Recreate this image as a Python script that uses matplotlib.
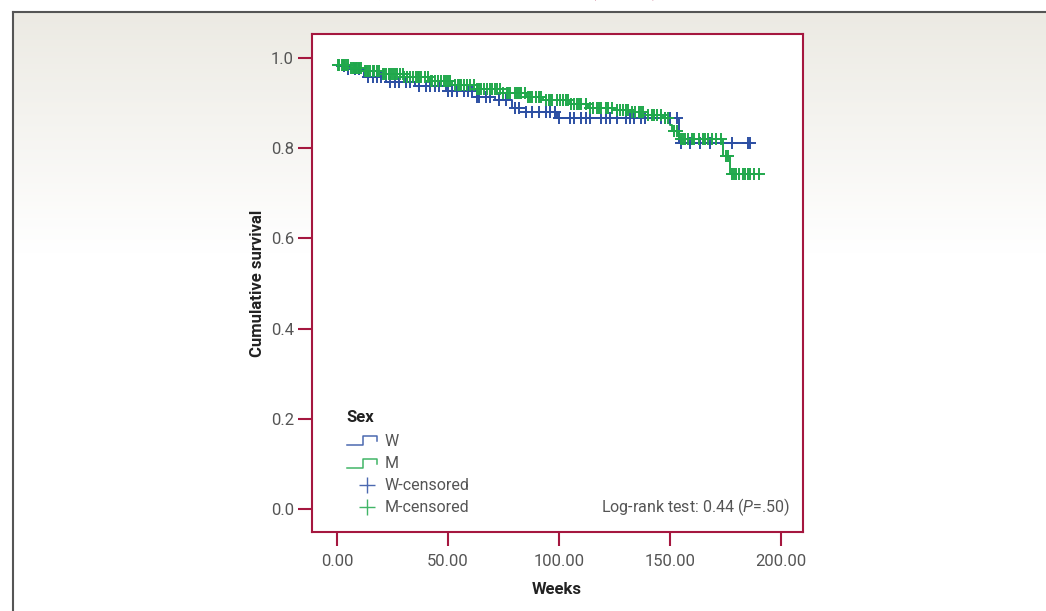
import matplotlib
matplotlib.use("Agg")
import matplotlib.pyplot as plt
from matplotlib import font_manager
from matplotlib.lines import Line2D
import numpy as np

# ── Data ────────────────────────────────────────────────────

# Women: step times (weeks) and survival after each step
w_times = [0, 5, 12, 22, 35, 49, 63, 71, 79, 85, 99, 154]
w_surv = [0.982, 0.975, 0.957, 0.947, 0.937, 0.926, 0.914, 0.906, 0.888, 0.880, 0.866, 0.811]
w_end = 187
w_cens = [3, 5, 8, 10, 14, 16, 18, 20, 24, 26, 28, 31, 33, 37, 40, 42, 44, 46, 50, 52,
          54, 57, 59, 61, 63, 64, 67, 69, 73, 76, 80, 82, 85, 88, 91, 94, 96, 98, 100,
          105, 107, 110, 112, 114, 119, 121, 123, 126, 130, 132, 134, 137, 139, 146,
          148, 150, 153, 155, 159, 163.5, 168, 178, 185, 186]

# Men
m_times = [0, 6, 12, 20, 30, 42, 52, 63, 75, 85, 93, 105, 113, 125, 132, 140, 147,
           150, 151, 154, 174, 177]
m_surv = [0.984, 0.978, 0.970, 0.965, 0.958, 0.948, 0.940, 0.930, 0.922, 0.914, 0.907,
          0.898, 0.890, 0.884, 0.879, 0.873, 0.866, 0.852, 0.837, 0.820, 0.782, 0.742]
m_end = 190
m_cens = [0.5, 1, 2, 2.5, 3, 4, 5, 6.5, 7, 7.5, 8.5, 9, 10, 11, 12.5, 13, 14, 15, 16, 16.5,
          18, 19, 20.5, 21, 22, 23.5, 24.5, 25, 26, 27, 28.5, 29.5, 30, 31.5, 33, 34, 35.5,
          36.5, 37, 38, 39.5, 41, 42.5, 43, 44, 45.5, 47, 48, 49, 50, 51, 53, 54.5, 55.5,
          56, 57, 58.5, 60, 61.5, 63, 64, 65, 66, 67.5, 69, 70, 71, 72, 73.5, 75, 76.5, 77,
          78, 80, 81, 82, 83, 84.5, 86, 87, 88, 89.5, 91, 92, 94, 95.5, 96.5, 97, 99, 100.5,
          102, 103, 104, 105.5, 107, 108, 109, 110, 112, 114, 115.5, 117, 118, 119, 121,
          122, 124, 126, 127.5, 129, 130, 131, 133, 134.5, 136, 137, 138, 140, 142, 143,
          144, 146, 148, 149, 152, 153, 155, 156, 157, 158, 160, 161, 163, 165, 166, 167,
          169, 171, 173, 175.5, 176, 178, 179, 180, 181, 183, 184, 185, 186, 188, 190]

x_ticks = [0, 50, 100, 150, 200]
y_ticks = [0.0, 0.2, 0.4, 0.6, 0.8, 1.0]

# ── Style ──────────────────────────────────────────────────

BLUE = "#2C4FA3"
GREEN = "#20A84C"
CRIMSON = "#A5173F"
TXT = "#555555"
DARK = "#222222"

installed = {f.name for f in font_manager.fontManager.ttflist}
FONT = "Liberation Sans Narrow" if "Liberation Sans Narrow" in installed else "Roboto"
plt.rcParams.update({
    "font.family": [FONT, "DejaVu Sans"],
    "mathtext.fontset": "custom",
    "mathtext.rm": FONT,
    "mathtext.it": FONT + ":italic",
})

W, H = 1046, 611
fig = plt.figure(figsize=(W / 100, H / 100), dpi=100)


def fx(px):
    return px / W


def fy(py):
    return 1 - py / H


# panel background: light warm gray fading to white
bg = fig.add_axes([fx(13), 0, 1 - fx(13), fy(12)], zorder=-10)
grad = np.linspace(0, 1, 300)
top = np.array([0.925, 0.918, 0.890])
cols = np.clip(top[None, :] + (1 - top[None, :]) * np.clip(grad / 0.4, 0, 1)[:, None], 0, 1)
bg.imshow(cols[:, None, :], aspect="auto", extent=[0, 1, 0, 1])
bg.set_axis_off()
fig.add_artist(Line2D([fx(13), 1], [fy(12), fy(12)], color="#555555", lw=1.5))
fig.add_artist(Line2D([fx(13), fx(13)], [fy(12), 0], color="#555555", lw=1.5))

# caption of the page, cropped so only its lowest pixels show (as in the source)
fig.text(fx(18), fy(-5), "Figure 2. Kaplan-Meier survival by sex, log-rank comparison (group)",
         color=CRIMSON, fontsize=15, fontweight="bold", va="baseline", ha="left")

# ── Survival plot ──────────────────────────────────────────

ax = fig.add_axes([fx(312), fy(532), fx(803) - fx(312), fy(34) - fy(532)])
ax.set_facecolor("white")


def surv_at(times, surv, t):
    idx = np.searchsorted(times, t, side="right") - 1
    return np.array(surv)[idx]


for times, surv, end, color in [(w_times, w_surv, w_end, BLUE), (m_times, m_surv, m_end, GREEN)]:
    ax.step(times + [end], surv + [surv[-1]], where="post", color=color, lw=1.4, zorder=3)

for times, surv, cens, color in [(w_times, w_surv, w_cens, BLUE), (m_times, m_surv, m_cens, GREEN)]:
    ax.plot(cens, surv_at(times, surv, cens), ls="none", marker="+", ms=9, mew=1.4,
            color=color, zorder=4)

ax.set_xlim(-11.3, 210)
ax.set_ylim(-0.051, 1.053)
ax.set_xticks(x_ticks)
ax.set_xticklabels([f"{v:.2f}" for v in x_ticks])
ax.set_yticks(y_ticks)
ax.set_yticklabels([f"{v:.1f}" for v in y_ticks])
for s in ax.spines.values():
    s.set_color(CRIMSON)
    s.set_linewidth(1.5)
ax.tick_params(direction="out", length=10, width=1.5, color=CRIMSON, labelcolor=TXT,
               labelsize=12)
ax.tick_params(axis="x", pad=6)
ax.tick_params(axis="y", pad=3)

fig.text(fx(258), fy(283), "Cumulative survival", rotation=90, ha="center", va="center",
         fontsize=12, fontweight="bold", color=DARK)
fig.text(fx(557), fy(590), "Weeks", ha="center", va="center", fontsize=12,
         fontweight="bold", color=DARK)

# legend drawn by hand, SPSS style
fig.text(fx(346), fy(417), "Sex", ha="left", va="center", fontsize=12, fontweight="bold",
         color=DARK)
for yc, color, lab in [(440, BLUE, "W"), (463, GREEN, "M")]:
    fig.add_artist(Line2D([fx(347), fx(363), fx(363), fx(377), fx(377)],
                          [fy(yc + 4.5), fy(yc + 4.5), fy(yc - 4.5), fy(yc - 4.5), fy(yc + 1)],
                          color=color, lw=1.1, alpha=0.85))
    fig.text(fx(385), fy(yc + 1), lab, ha="left", va="center", fontsize=11.5, color=TXT)
for yc, color, lab in [(485, BLUE, "W-censored"), (507, GREEN, "M-censored")]:
    fig.add_artist(Line2D([fx(367)], [fy(yc)], marker="+", ms=11, mew=1.0, color=color,
                          alpha=0.85))
    fig.text(fx(385), fy(yc), lab, ha="left", va="center", fontsize=11.5, color=TXT)

fig.text(fx(790), fy(507), r"Log-rank test: 0.44 ($\mathit{P}$=.50)", ha="right",
         va="center", fontsize=11.5, color=TXT)

plt.savefig("out.png", dpi=100)
plt.close()
